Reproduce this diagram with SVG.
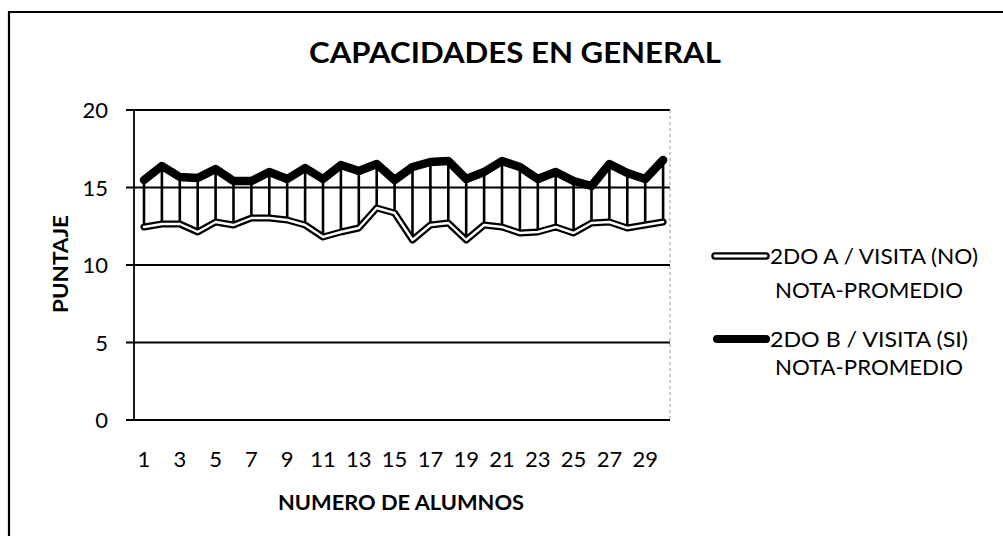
<svg xmlns="http://www.w3.org/2000/svg" width="1003" height="536" viewBox="0 0 1003 536">
<style>
  .t { font-family: Lato, "Open Sans", "Liberation Sans", sans-serif; fill: #000; }
  .tick { font-size: 22px; }
  .bold { font-weight: bold; }
  .grid { stroke: #000; stroke-width: 1.8; fill: none; }
  .lineOuter { fill: none; stroke: #000; stroke-linejoin: round; stroke-linecap: round; }
  .drop { stroke: #000; stroke-width: 2.6; fill: none; }
</style>
<rect x="0" y="0" width="1003" height="536" fill="#fff"/>
<g id="frame">
  <path d="M9 536 V12 H1003" fill="none" stroke="#000" stroke-width="2.2"/>
</g>
<g id="title">
  <text class="t bold" x="515" y="63" font-size="29" text-anchor="middle" textLength="412" lengthAdjust="spacingAndGlyphs">CAPACIDADES EN GENERAL</text>
</g>
<g id="plot-grid">
  <line class="grid" x1="126" y1="110" x2="670" y2="110"/>
  <line class="grid" x1="126" y1="187.5" x2="670" y2="187.5"/>
  <line class="grid" x1="126" y1="265" x2="670" y2="265"/>
  <line class="grid" x1="126" y1="342.5" x2="670" y2="342.5"/>
  <line class="grid" x1="126" y1="420" x2="670" y2="420" stroke-width="2.2"/>
  <line class="grid" x1="134" y1="110" x2="134" y2="420" stroke-width="2.2"/>
  <line x1="670" y1="110" x2="670" y2="420" stroke="#999" stroke-width="1" stroke-dasharray="3 3"/>
</g>
<g id="y-axis-labels" class="t tick" text-anchor="end">
  <text x="108" y="118">20</text>
  <text x="108" y="195.5">15</text>
  <text x="108" y="273">10</text>
  <text x="108" y="350.5">5</text>
  <text x="108" y="428">0</text>
</g>
<g id="y-axis-title">
  <text class="t bold" x="0" y="0" font-size="21" text-anchor="middle" textLength="98" lengthAdjust="spacingAndGlyphs" transform="translate(68 264) rotate(-90)">PUNTAJE</text>
</g>
<g id="x-axis-labels" class="t tick" text-anchor="middle">
  <text x="144" y="467">1</text>
  <text x="179.8" y="467">3</text>
  <text x="215.6" y="467">5</text>
  <text x="251.4" y="467">7</text>
  <text x="287.2" y="467">9</text>
  <text x="323" y="467">11</text>
  <text x="358.8" y="467">13</text>
  <text x="394.6" y="467">15</text>
  <text x="430.4" y="467">17</text>
  <text x="466.2" y="467">19</text>
  <text x="502" y="467">21</text>
  <text x="537.8" y="467">23</text>
  <text x="573.6" y="467">25</text>
  <text x="609.4" y="467">27</text>
  <text x="645.2" y="467">29</text>
</g>
<g id="x-axis-title">
  <text class="t bold" x="401" y="510" font-size="21" text-anchor="middle" textLength="246" lengthAdjust="spacingAndGlyphs">NUMERO DE ALUMNOS</text>
</g>
<g id="connectors">
  <path class="drop" d="M144 180V227 M161.9 166V224 M179.8 177V224 M197.7 178V232 M215.6 169V222 M233.5 181V225 M251.4 181V218 M269.3 172V218 M287.2 179V220 M305.1 168V225 M323 179V237 M340.9 165V232 M358.8 171V228 M376.7 164V208 M394.6 180V213 M412.5 167V240 M430.4 162V225 M448.3 161V223 M466.2 179V240 M484.1 172V225 M502 161V227 M519.9 167V233 M537.8 179V232 M555.7 172V227 M573.6 181V233 M591.5 186V223 M609.4 164V222 M627.3 173V228 M645.2 179V225 M663.1 160V222"/>
</g>
<g id="series-a">
  <polyline class="lineOuter" stroke-width="7" points="144,227 161.9,224 179.8,224 197.7,232 215.6,222 233.5,225 251.4,218 269.3,218 287.2,220 305.1,225 323,237 340.9,232 358.8,228 376.7,208 394.6,213 412.5,240 430.4,225 448.3,223 466.2,240 484.1,225 502,227 519.9,233 537.8,232 555.7,227 573.6,233 591.5,223 609.4,222 627.3,228 645.2,225 663.1,222"/>
  <polyline fill="none" stroke="#fff" stroke-width="2.4" stroke-linejoin="round" stroke-linecap="round" points="144,227 161.9,224 179.8,224 197.7,232 215.6,222 233.5,225 251.4,218 269.3,218 287.2,220 305.1,225 323,237 340.9,232 358.8,228 376.7,208 394.6,213 412.5,240 430.4,225 448.3,223 466.2,240 484.1,225 502,227 519.9,233 537.8,232 555.7,227 573.6,233 591.5,223 609.4,222 627.3,228 645.2,225 663.1,222"/>
</g>
<g id="series-b">
  <polyline class="lineOuter" stroke-width="8.5" points="144,180 161.9,166 179.8,177 197.7,178 215.6,169 233.5,181 251.4,181 269.3,172 287.2,179 305.1,168 323,179 340.9,165 358.8,171 376.7,164 394.6,180 412.5,167 430.4,162 448.3,161 466.2,179 484.1,172 502,161 519.9,167 537.8,179 555.7,172 573.6,181 591.5,186 609.4,164 627.3,173 645.2,179 663.1,160"/>
</g>
<g id="legend-a">
  <line x1="715" y1="256" x2="766" y2="256" stroke="#000" stroke-width="7.5" stroke-linecap="round"/>
  <line x1="715" y1="256" x2="766" y2="256" stroke="#fff" stroke-width="2.8" stroke-linecap="round"/>
  <text class="t" x="770" y="264" font-size="22" textLength="208" lengthAdjust="spacingAndGlyphs">2DO A / VISITA (NO)</text>
  <text class="t" x="775" y="298" font-size="22" textLength="188" lengthAdjust="spacingAndGlyphs">NOTA-PROMEDIO</text>
</g>
<g id="legend-b">
  <line x1="717" y1="339" x2="766" y2="339" stroke="#000" stroke-width="8" stroke-linecap="round"/>
  <text class="t" x="770" y="347" font-size="22" textLength="198" lengthAdjust="spacingAndGlyphs">2DO B / VISITA (SI)</text>
  <text class="t" x="775" y="375" font-size="22" textLength="188" lengthAdjust="spacingAndGlyphs">NOTA-PROMEDIO</text>
</g>
</svg>
